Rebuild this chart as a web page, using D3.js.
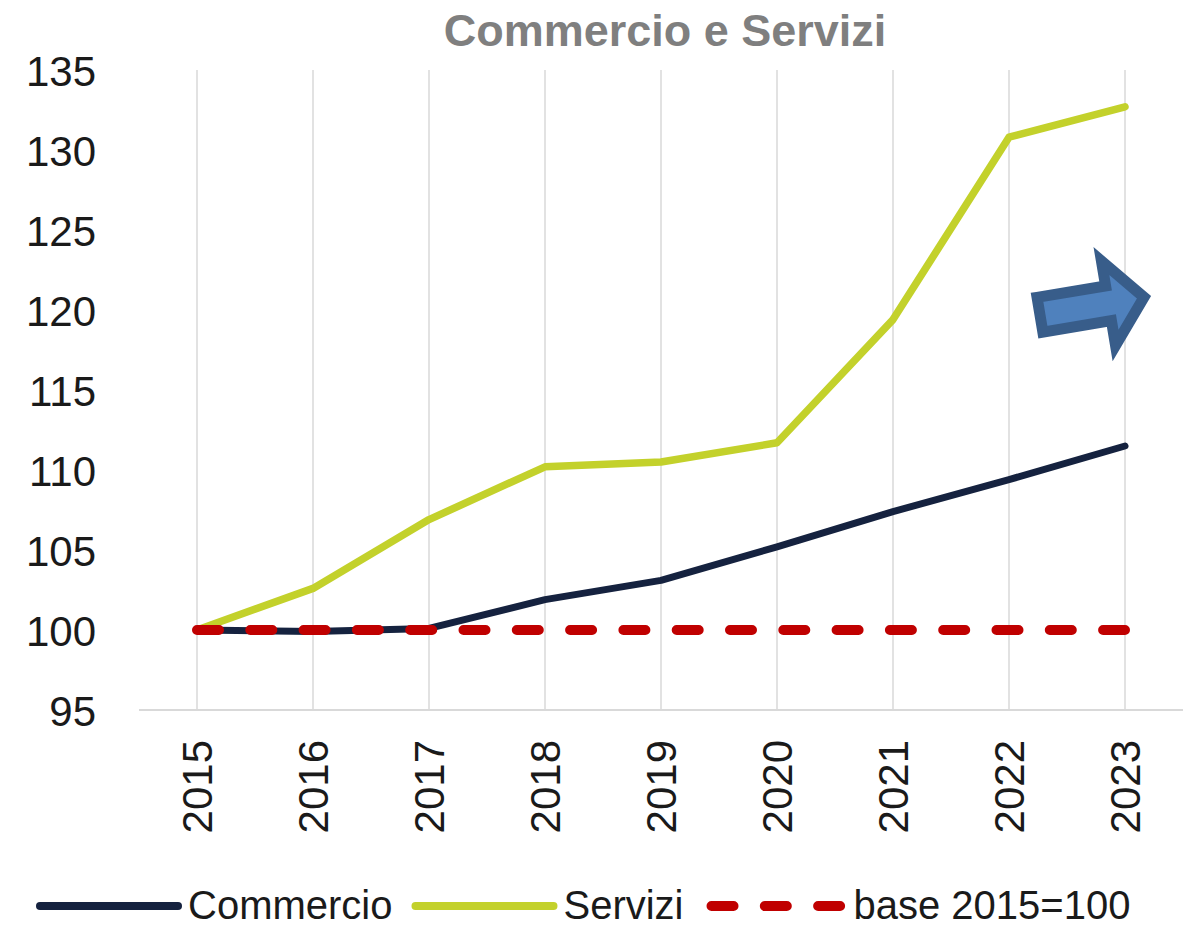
<!DOCTYPE html>
<html>
<head>
<meta charset="utf-8">
<script src="https://cdn.jsdelivr.net/npm/d3@7"></script>
<style>
  body { margin: 0; background: #fff; }
  text { font-family: "Liberation Sans", Arial, sans-serif; }
</style>
</head>
<body>
<div id="chart"></div>
<script>
// data
const years = ["2015", "2016", "2017", "2018", "2019", "2020", "2021", "2022", "2023"];
const commercio = [100, 99.9, 100.1, 101.9, 103.1, 105.2, 107.4, 109.4, 111.5];
const servizi = [100, 102.6, 106.9, 110.2, 110.5, 111.7, 119.4, 130.8, 132.7];
const base = [100, 100, 100, 100, 100, 100, 100, 100, 100];
const yTicks = [95, 100, 105, 110, 115, 120, 125, 130, 135];

const width = 1196, height = 930;

const svg = d3.select("#chart").append("svg")
    .attr("width", width)
    .attr("height", height);

const x = d3.scalePoint()
    .domain(years)
    .range([197, 1125]);

const step = x.step();

const y = d3.scaleLinear()
    .domain([95, 135])
    .range([710, 70]);

// title
svg.append("text")
    .attr("x", 665)
    .attr("y", 46)
    .attr("text-anchor", "middle")
    .attr("font-size", 45)
    .attr("font-weight", "bold")
    .attr("fill", "#7f7f7f")
    .text("Commercio e Servizi");

// vertical gridlines
svg.append("g")
    .selectAll("line")
    .data(years)
    .enter()
    .append("line")
    .attr("x1", d => x(d))
    .attr("x2", d => x(d))
    .attr("y1", y(135))
    .attr("y2", y(95))
    .attr("stroke", "#d9d9d9")
    .attr("stroke-width", 1.5);

// y axis (labels only)
const yAxis = svg.append("g")
    .attr("transform", "translate(96,0)")
    .call(d3.axisLeft(y).tickValues(yTicks).tickSize(0).tickPadding(0));
yAxis.select(".domain").remove();
yAxis.selectAll("text")
    .attr("font-size", 42)
    .attr("font-family", "Liberation Sans, Arial, sans-serif")
    .attr("fill", "#1a1a1a")
    .attr("dy", "0.36em");

// x axis
const xAxis = svg.append("g")
    .attr("transform", `translate(0,${y(95)})`)
    .call(d3.axisBottom(x).tickSize(0).tickPadding(0));
xAxis.select(".domain")
    .attr("d", `M${x(years[0]) - step / 2},0H${x(years[years.length - 1]) + step / 2}`)
    .attr("stroke", "#d9d9d9")
    .attr("stroke-width", 2);
xAxis.selectAll("text")
    .attr("font-size", 42)
    .attr("font-family", "Liberation Sans, Arial, sans-serif")
    .attr("fill", "#1a1a1a")
    .attr("transform", "rotate(-90)")
    .attr("text-anchor", "end")
    .attr("x", -30)
    .attr("y", 0)
    .attr("dy", "0.35em");

const line = d3.line()
    .x((d, i) => x(years[i]))
    .y(d => y(d));

const series = [
    { name: "Servizi", values: servizi, color: "#c3d12b", width: 7.5, dash: null },
    { name: "Commercio", values: commercio, color: "#15223f", width: 7, dash: null },
    { name: "base 2015=100", values: base, color: "#c00000", width: 10, dash: "22 31.3" }
];

series.forEach(s => {
    svg.append("path")
        .datum(s.values)
        .attr("d", line)
        .attr("fill", "none")
        .attr("stroke", s.color)
        .attr("stroke-width", s.width)
        .attr("stroke-linejoin", "round")
        .attr("stroke-linecap", "round")
        .attr("stroke-dasharray", s.dash);
});

// blue arrow annotation
const arrowPts = [[5.5, -17.6], [75, -17.6], [75, -42.8], [111, 0], [75, 42.8], [75, 17.6], [5.5, 17.6]];
svg.append("polygon")
    .attr("points", arrowPts.map(p => p.join(",")).join(" "))
    .attr("transform", `translate(${x("2022") + step * 0.22},${y(119.65)}) rotate(-9.5)`)
    .attr("fill", "#4f81bd")
    .attr("stroke", "#385d8a")
    .attr("stroke-width", 11)
    .attr("stroke-linejoin", "miter");

// legend
const legendOrder = [series[1], series[0], series[2]];
const legend = svg.append("g").attr("transform", "translate(40,906)");
let lx = 0;
legendOrder.forEach(s => {
    const len = s.dash ? 128.6 : 138;
    const off = s.dash ? 5 : 0;
    legend.append("line")
        .attr("x1", lx + off)
        .attr("x2", lx + off + len)
        .attr("y1", 0)
        .attr("y2", 0)
        .attr("stroke", s.color)
        .attr("stroke-width", s.dash ? 10 : 8)
        .attr("stroke-linecap", "round")
        .attr("stroke-dasharray", s.dash);
    lx += s.dash ? 147 : 148;
    const t = legend.append("text")
        .attr("x", lx)
        .attr("y", 13)
        .attr("font-size", 40)
        .attr("fill", "#1a1a1a")
        .text(s.name);
    lx += t.node().getComputedTextLength() + 23;
});
</script>
</body>
</html>
